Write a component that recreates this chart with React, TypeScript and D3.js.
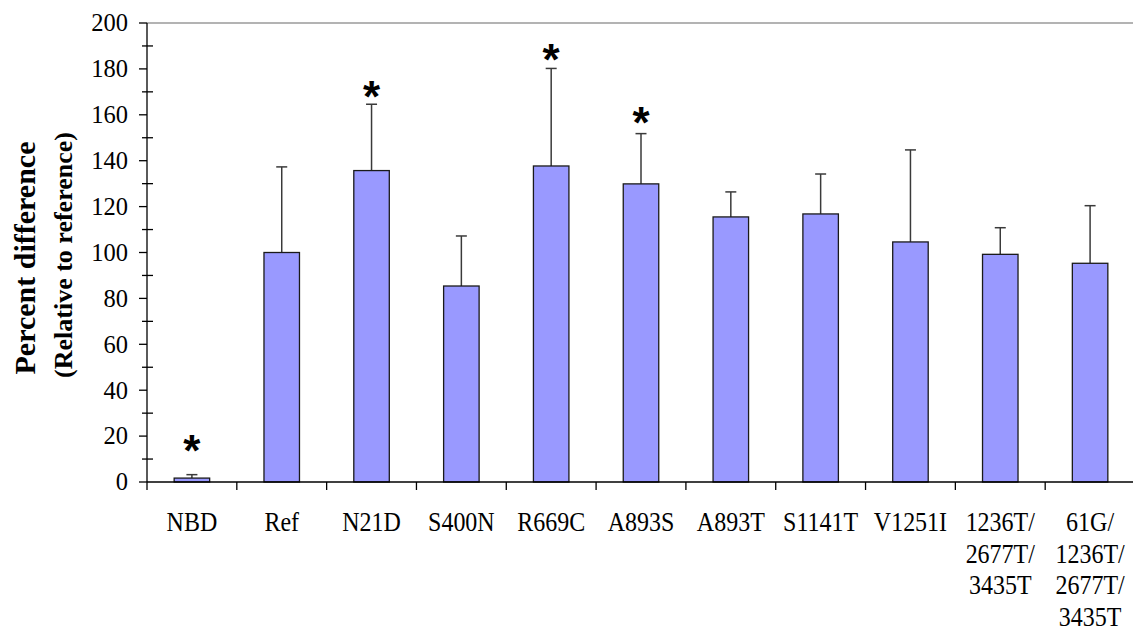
import React from "react";
import * as d3 from "d3";

// Variant labels (multi-line labels split on "\n")
const categories = [
  "NBD",
  "Ref",
  "N21D",
  "S400N",
  "R669C",
  "A893S",
  "A893T",
  "S1141T",
  "V1251I",
  "1236T/\n2677T/\n3435T",
  "61G/\n1236T/\n2677T/\n3435T",
];

// Mean percent difference relative to reference
const means = [1.7, 100, 135.7, 85.4, 137.7, 129.9, 115.5, 116.8, 104.6, 99.2, 95.3];

// Upper end of the error bar (mean + SD)
const upper = [3.2, 137.3, 164.6, 107.2, 180.2, 151.8, 126.4, 134.2, 144.7, 110.8, 120.4];

// Significance markers: value at which the asterisk is placed (null = none)
const significance: (number | null)[] = [17.6, null, 171.7, null, 188, 160.3, null, null, null, null, null];

const yTicks = [0, 20, 40, 60, 80, 100, 120, 140, 160, 180, 200];
const yMinorTicks = [10, 30, 50, 70, 90, 110, 130, 150, 170, 190];

const W = 1133;
const H = 632;
const left = 147;
const right = 1135;
const top = 23;
const bottom = 482;

export default function App() {
  const x = d3.scaleBand<string>().domain(categories).range([left, right]).paddingInner(0).paddingOuter(0);
  const y = d3.scaleLinear().domain([0, 200]).range([bottom, top]);
  const barW = 35.5;
  const serif = "'Liberation Serif', 'Times New Roman', serif";

  return (
    <div style={{ position: "absolute", left: 0, top: 0 }}>
      <svg width={W} height={H} style={{ display: "block", background: "#fff" }}>
        {/* plot frame top */}
        <line x1={left} x2={right} y1={top} y2={top} stroke="#9a9a9a" strokeWidth={1.5} />

        {/* bars */}
        {categories.map((c, i) => {
          const cx = x(c)! + x.bandwidth() / 2;
          return (
            <g key={c}>
              <line x1={cx} x2={cx} y1={y(means[i])} y2={y(upper[i])} stroke="#3a3a3a" strokeWidth={1.5} />
              <line x1={cx - 5.5} x2={cx + 5.5} y1={y(upper[i])} y2={y(upper[i])} stroke="#3a3a3a" strokeWidth={1.5} />
              <rect
                x={cx - barW / 2}
                y={y(means[i])}
                width={barW}
                height={y(0) - y(means[i])}
                fill="#9999FF"
                stroke="#1a1a1a"
                strokeWidth={1.3}
              />
              {significance[i] !== null && (
                <text
                  x={cx}
                  y={y(significance[i] as number) + 24}
                  textAnchor="middle"
                  fontFamily="'Liberation Sans', Arial, sans-serif"
                  fontWeight="bold"
                  fontSize={44}
                  fill="#000"
                >
                  *
                </text>
              )}
            </g>
          );
        })}

        {/* y axis */}
        <line x1={left} x2={left} y1={top} y2={bottom} stroke="#000" strokeWidth={1.3} />
        {yTicks.map((t) => (
          <g key={t}>
            <line x1={left - 8} x2={left} y1={y(t)} y2={y(t)} stroke="#000" strokeWidth={1.3} />
            <text
              x={128}
              y={y(t)}
              dy="0.34em"
              textAnchor="end"
              fontFamily={serif}
              fontSize={24.5}
              fill="#000"
            >
              {t}
            </text>
          </g>
        ))}
        {yMinorTicks.map((t) => (
          <line key={t} x1={left - 5} x2={left + 6} y1={y(t)} y2={y(t)} stroke="#000" strokeWidth={1.3} />
        ))}

        {/* x axis */}
        <line x1={left} x2={right} y1={bottom} y2={bottom} stroke="#000" strokeWidth={1.5} />
        {categories.map((c) => (
          <line key={c} x1={x(c)!} x2={x(c)!} y1={bottom} y2={bottom + 8} stroke="#000" strokeWidth={1.3} />
        ))}
        {categories.map((c) => {
          const cx = x(c)! + x.bandwidth() / 2;
          return c.split("\n").map((line, k) => (
            <text
              key={c + k}
              transform={`translate(${cx},${531 + k * 31.5}) scale(1,1.12)`}
              textAnchor="middle"
              fontFamily={serif}
              fontSize={24}
              fill="#000"
            >
              {line}
            </text>
          ));
        })}

        {/* y axis title */}
        <text
          transform="translate(35,258) rotate(-90)"
          textAnchor="middle"
          fontFamily={serif}
          fontWeight="bold"
          fontSize={30}
          fill="#000"
        >
          Percent difference
        </text>
        <text
          transform="translate(72,255) rotate(-90)"
          textAnchor="middle"
          fontFamily={serif}
          fontWeight="bold"
          fontSize={26}
          fill="#000"
        >
          (Relative to reference)
        </text>
      </svg>
    </div>
  );
}
